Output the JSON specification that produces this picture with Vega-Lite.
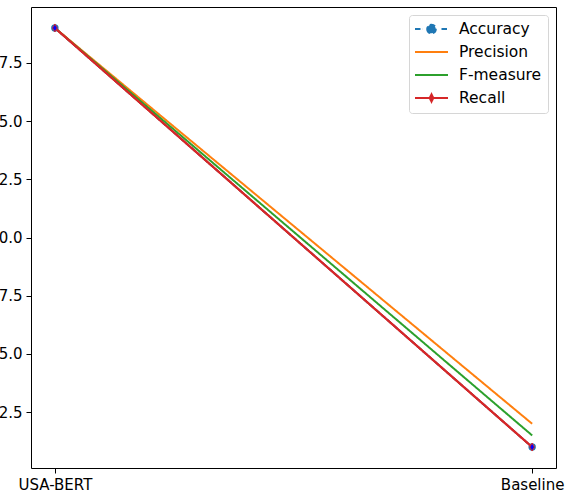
{
  "$schema": "https://vega.github.io/schema/vega-lite/v6.json",
  "autosize": "none",
  "width": 525,
  "height": 461,
  "padding": {"left": 31, "top": 7, "right": 17, "bottom": 28},
  "background": "white",
  "data": {
    "values": [
      {"model": "USA-BERT", "metric": "Accuracy", "value": 99},
      {"model": "USA-BERT", "metric": "Precision", "value": 99},
      {"model": "USA-BERT", "metric": "F-measure", "value": 99},
      {"model": "USA-BERT", "metric": "Recall", "value": 99},
      {"model": "Baseline", "metric": "Accuracy", "value": 81},
      {"model": "Baseline", "metric": "Precision", "value": 82},
      {"model": "Baseline", "metric": "F-measure", "value": 81.5},
      {"model": "Baseline", "metric": "Recall", "value": 81}
    ]
  },
  "encoding": {
    "x": {
      "field": "model", "type": "nominal",
      "scale": {"type": "point", "domain": ["USA-BERT", "Baseline"], "padding": 0.05},
      "axis": {"title": null, "labelAngle": 0, "tickSize": 5, "labelPadding": 4, "domain": false, "grid": false}
    },
    "y": {
      "field": "value", "type": "quantitative",
      "scale": {"domain": [80.1, 99.9], "nice": false, "zero": false},
      "axis": {"title": null, "values": [82.5, 85, 87.5, 90, 92.5, 95, 97.5], "format": ".1f", "tickSize": 5, "labelPadding": 4, "domain": false, "grid": false}
    }
  },
  "layer": [
    {
      "mark": {"type": "line", "strokeWidth": 2},
      "encoding": {
        "color": {
          "field": "metric", "type": "nominal",
          "scale": {"domain": ["Accuracy", "Precision", "F-measure", "Recall"], "range": ["#1f77b4", "#ff7f0e", "#2ca02c", "#d62728"]},
          "legend": {
            "title": null,
            "orient": "top-right",
            "offset": 8,
            "symbolType": "stroke",
            "symbolSize": 196,
            "symbolStrokeWidth": 2,
            "labelFont": "DejaVu Sans",
            "labelFontSize": 15.5,
            "labelColor": "black",
            "labelOffset": 28,
            "rowPadding": 6,
            "padding": 6,
            "fillColor": "white",
            "strokeColor": "#d6d6d6",
            "cornerRadius": 3,
            "encode": {
              "symbols": {
                "update": {
                  "shape": {"signal": "datum.value === 'Accuracy' ? 'M-1.143,0H0M2.643,0H3.571M0.6,0A0.614,0.614 0 1,0 1.828,0A0.614,0.614 0 1,0 0.6,0Z' : (datum.value === 'Recall' ? 'M-1.143,0H3.571M1.214,-0.52L1.474,0L1.214,0.52L0.954,0Z' : 'M-1.143,0H3.571')"},
                  "fill": {"signal": "datum.value === 'Accuracy' ? '#1f77b4' : (datum.value === 'Recall' ? '#0000ff' : 'transparent')"}
                }
              }
            }
          }
        },
        "strokeDash": {
          "field": "metric", "type": "nominal",
          "scale": {"domain": ["Accuracy", "Precision", "F-measure", "Recall"], "range": [[5.5, 2.4], [1, 0], [1, 0], [1, 0]]},
          "legend": null
        }
      }
    },
    {
      "transform": [{"filter": "datum.metric === 'Accuracy'"}],
      "mark": {"type": "point", "shape": "circle", "filled": true, "size": 55, "color": "#1f77b4", "opacity": 1}
    },
    {
      "transform": [{"filter": "datum.metric === 'Recall'"}],
      "mark": {"type": "line", "strokeWidth": 2, "color": "#d62728"}
    },
    {
      "transform": [{"filter": "datum.metric === 'Recall'"}],
      "mark": {"type": "point", "shape": "M0,-1L0.6,0L0,1L-0.6,0Z", "size": 64, "filled": true, "fill": "#0000ff", "stroke": "#d62728", "strokeWidth": 1, "opacity": 1}
    }
  ],
  "config": {
    "view": {"stroke": "black", "strokeWidth": 1},
    "axis": {"labelFont": "DejaVu Sans", "labelFontSize": 15, "labelColor": "black", "tickColor": "black", "tickWidth": 1}
  }
}
